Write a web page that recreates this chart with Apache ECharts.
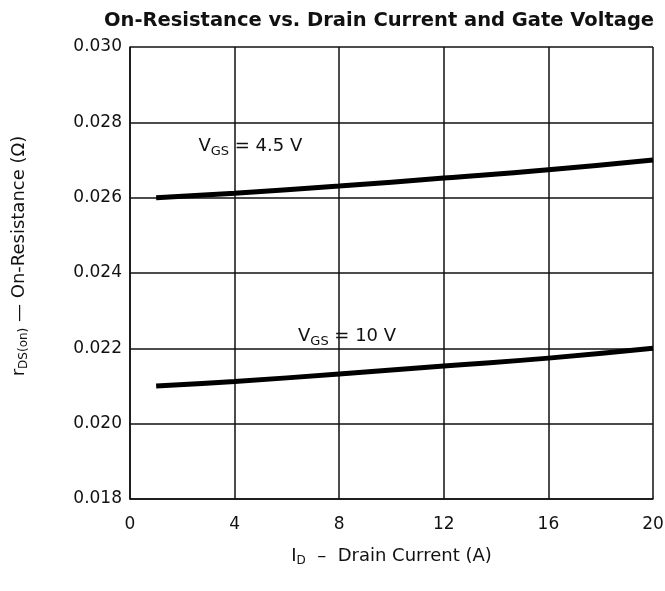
<!DOCTYPE html>
<html>
<head>
<meta charset="utf-8">
<script src="https://cdn.jsdelivr.net/npm/echarts@6/dist/echarts.min.js"></script>
<style>
  html, body { margin: 0; padding: 0; background: #fff; }
  #chart { width: 665px; height: 591px; }
</style>
</head>
<body>
<div id="chart"></div>
<script>
// drain current (A)
var current = [1, 4, 8, 12, 16, 20];
// on-resistance (ohm)
var vgs45 = [0.0260, 0.02612, 0.02631, 0.02652, 0.02674, 0.0270];
var vgs10 = [0.0210, 0.02112, 0.02132, 0.02153, 0.02174, 0.0220];
var xTicks = [0, 4, 8, 12, 16, 20];
var yTicks = [0.018, 0.020, 0.022, 0.024, 0.026, 0.028, 0.030];

var font = 'DejaVu Sans, sans-serif';

function pairs(xs, ys) {
  return xs.map(function (x, i) { return [x, ys[i]]; });
}

function curveLabel(x, y, txt) {
  return {
    symbol: 'circle',
    symbolSize: 1,
    itemStyle: { color: 'rgba(0,0,0,0)' },
    data: [{ coord: [x, y] }],
    label: {
      show: true,
      position: 'inside',
      formatter: '{v|V}{s|GS}{v| = ' + txt + '}',
      rich: {
        v: { fontSize: 18, color: '#111', fontFamily: font },
        s: { fontSize: 13, color: '#111', fontFamily: font, padding: [10, 0, 0, 0] }
      }
    }
  };
}

var chart = echarts.init(document.getElementById('chart'));
var option = {
  backgroundColor: '#fff',
  animation: false,
  title: {
    text: 'On-Resistance vs. Drain Current and Gate Voltage',
    left: 374,
    textAlign: 'center',
    top: 6,
    textStyle: { fontSize: 19.5, fontWeight: 'bold', color: '#111', fontFamily: font }
  },
  grid: { left: 130, right: 12, top: 47, bottom: 92, outerBoundsMode: 'none', containLabel: false },
  xAxis: {
    type: 'value',
    min: 0, max: 20, interval: 4,
    name: '{i|I}{s|D}{t|  –  Drain Current (A)}',
    nameLocation: 'middle',
    nameGap: 46,
    nameTextStyle: {
      rich: {
        i: { fontSize: 18, color: '#111', fontFamily: font },
        s: { fontSize: 12, color: '#111', fontFamily: font, padding: [10, 0, 0, 0] },
        t: { fontSize: 18, color: '#111', fontFamily: font }
      }
    },
    axisLine: { show: true, lineStyle: { color: '#111', width: 1.5 } },
    axisTick: { show: false },
    axisLabel: {
      margin: 17, fontSize: 17, color: '#111', fontFamily: font,
      formatter: function (v) { return xTicks.indexOf(v) >= 0 ? String(v) : ''; }
    },
    splitLine: { show: true, lineStyle: { color: '#111', width: 1.5 } }
  },
  yAxis: {
    type: 'value',
    min: 0.018, max: 0.030, interval: 0.002,
    name: '{r|r}{s|DS(on)}{t| — On-Resistance (Ω)}',
    nameLocation: 'middle',
    nameGap: 100,
    nameRotate: 90,
    nameTextStyle: {
      padding: [0, 0, 0, 34],
      rich: {
        r: { fontSize: 18, color: '#111', fontFamily: font },
        s: { fontSize: 12, color: '#111', fontFamily: font, padding: [10, 0, 0, 0] },
        t: { fontSize: 18, color: '#111', fontFamily: font }
      }
    },
    axisLine: { show: true, lineStyle: { color: '#111', width: 1.5 } },
    axisTick: { show: false },
    axisLabel: {
      margin: 8, fontSize: 17, color: '#111', fontFamily: font,
      formatter: function (v) {
        var t = yTicks.find(function (k) { return Math.abs(k - v) < 1e-9; });
        return t !== undefined ? t.toFixed(3) : '';
      }
    },
    splitLine: { show: true, lineStyle: { color: '#111', width: 1.5 } }
  },
  series: [
    {
      name: 'VGS = 4.5 V',
      type: 'line',
      data: pairs(current, vgs45),
      smooth: true,
      symbol: 'none',
      lineStyle: { color: '#000', width: 5 },
      markPoint: curveLabel(4.6, 0.02735, '4.5 V')
    },
    {
      name: 'VGS = 10 V',
      type: 'line',
      data: pairs(current, vgs10),
      smooth: true,
      symbol: 'none',
      lineStyle: { color: '#000', width: 5 },
      markPoint: curveLabel(8.3, 0.02231, '10 V')
    }
  ]
};
chart.setOption(option);
</script>
</body>
</html>
